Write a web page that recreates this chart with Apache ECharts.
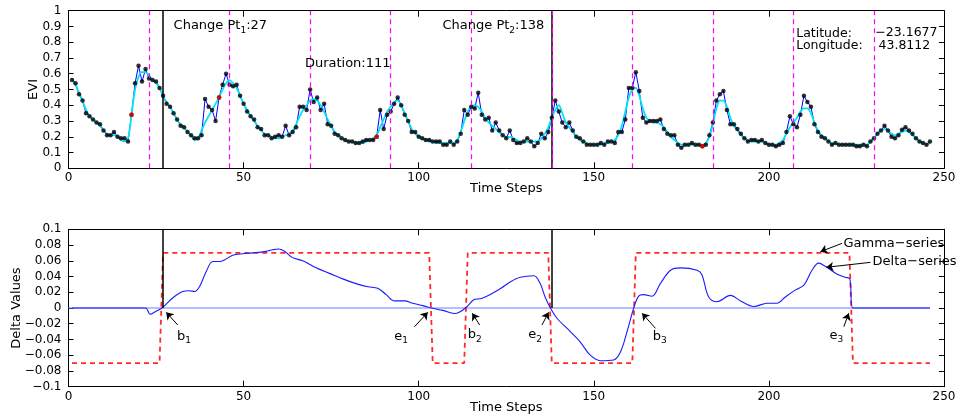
<!DOCTYPE html>
<html>
<head>
<meta charset="utf-8">
<script src="https://cdn.jsdelivr.net/npm/echarts/dist/echarts.min.js"></script>
<style>
html,body{margin:0;padding:0;background:#fff;}
#c{width:959px;height:419px;}
</style>
</head>
<body>
<div id="c"></div>
<script>
// EVI observations (time steps 1..246)
const evi = [
0.56,0.54,0.47,0.43,0.35,0.33,0.31,0.29,0.28,0.24,
0.21,0.21,0.23,0.20,0.19,0.19,0.17,0.34,0.54,0.65,
0.55,0.63,0.57,0.56,0.55,0.51,0.46,0.41,0.39,0.35,
0.31,0.27,0.26,0.23,0.21,0.19,0.19,0.21,0.44,0.39,
0.37,0.30,0.45,0.53,0.60,0.53,0.52,0.53,0.46,0.41,
0.36,0.33,0.31,0.26,0.25,0.21,0.21,0.19,0.20,0.21,
0.20,0.27,0.21,0.23,0.26,0.39,0.39,0.37,0.50,0.42,
0.45,0.37,0.41,0.28,0.27,0.22,0.21,0.19,0.18,0.17,
0.17,0.16,0.16,0.17,0.18,0.18,0.18,0.20,0.37,0.25,
0.34,0.36,0.41,0.45,0.40,0.34,0.30,0.23,0.23,0.20,
0.19,0.18,0.18,0.17,0.17,0.17,0.15,0.15,0.17,0.15,
0.17,0.22,0.37,0.34,0.39,0.38,0.48,0.34,0.31,0.32,
0.24,0.29,0.24,0.21,0.19,0.24,0.18,0.16,0.16,0.17,
0.19,0.17,0.14,0.16,0.22,0.19,0.23,0.32,0.43,0.36,
0.29,0.26,0.29,0.24,0.20,0.19,0.17,0.15,0.15,0.15,
0.15,0.16,0.15,0.17,0.17,0.16,0.23,0.23,0.31,0.51,
0.51,0.61,0.49,0.32,0.29,0.30,0.30,0.30,0.31,0.25,
0.22,0.21,0.21,0.15,0.13,0.15,0.15,0.16,0.15,0.15,
0.14,0.15,0.21,0.29,0.43,0.47,0.49,0.37,0.28,0.28,
0.25,0.22,0.19,0.17,0.18,0.18,0.17,0.18,0.16,0.15,
0.15,0.14,0.15,0.16,0.23,0.33,0.28,0.26,0.34,0.46,
0.42,0.39,0.28,0.23,0.20,0.19,0.17,0.15,0.16,0.15,
0.15,0.15,0.15,0.15,0.14,0.14,0.15,0.14,0.17,0.19,
0.22,0.24,0.27,0.24,0.20,0.19,0.21,0.245,0.26,0.24,
0.22,0.19,0.17,0.16,0.15,0.17
];
// smoothed EVI (cyan curve)
const eviSmooth = [
0.57,0.53,0.48,0.43,0.37,0.33,0.31,0.29,0.27,0.24,
0.22,0.21,0.21,0.20,0.18,0.17,0.19,0.34,0.50,0.58,
0.61,0.61,0.59,0.56,0.54,0.51,0.46,0.42,0.39,0.35,
0.31,0.28,0.26,0.23,0.21,0.18,0.19,0.24,0.29,0.33,
0.37,0.41,0.45,0.50,0.54,0.56,0.54,0.51,0.46,0.41,
0.37,0.33,0.30,0.27,0.24,0.22,0.21,0.20,0.19,0.19,
0.20,0.21,0.22,0.24,0.28,0.33,0.37,0.40,0.43,0.44,
0.43,0.40,0.36,0.31,0.27,0.23,0.21,0.19,0.18,0.17,
0.17,0.16,0.16,0.16,0.17,0.18,0.19,0.21,0.26,0.31,
0.36,0.39,0.42,0.43,0.40,0.35,0.30,0.25,0.22,0.20,
0.19,0.18,0.17,0.17,0.16,0.16,0.16,0.16,0.16,0.16,
0.18,0.23,0.30,0.36,0.39,0.40,0.39,0.36,0.32,0.29,
0.27,0.25,0.23,0.21,0.20,0.20,0.19,0.18,0.17,0.17,
0.17,0.17,0.17,0.17,0.19,0.22,0.26,0.32,0.37,0.40,
0.35,0.29,0.26,0.23,0.20,0.18,0.17,0.16,0.15,0.15,
0.15,0.15,0.16,0.16,0.17,0.18,0.21,0.27,0.36,0.45,
0.50,0.51,0.46,0.38,0.32,0.30,0.29,0.29,0.28,0.26,
0.23,0.20,0.18,0.16,0.15,0.15,0.15,0.15,0.15,0.15,
0.15,0.16,0.20,0.28,0.38,0.43,0.43,0.39,0.32,0.27,
0.24,0.21,0.19,0.18,0.17,0.17,0.17,0.17,0.16,0.15,
0.15,0.15,0.16,0.18,0.22,0.26,0.29,0.32,0.36,0.38,
0.38,0.35,0.29,0.24,0.21,0.19,0.17,0.16,0.16,0.15,
0.15,0.15,0.15,0.15,0.15,0.15,0.15,0.15,0.17,0.19,
0.22,0.24,0.25,0.24,0.22,0.21,0.22,0.23,0.24,0.23,
0.21,0.19,0.17,0.16,0.15,0.16
];
const redSteps = [18, 43, 88, 181];
const yearBreaks = [23, 46, 69, 92, 115, 138, 161, 184, 207, 230];
const changePoints = [27, 138];

// Gamma-series (red dashed step)
const gammaT = [1, 26, 27, 103, 104, 113, 114, 137, 138, 161, 162, 223, 224, 246];
const gammaV = [-0.07, -0.07, 0.07, 0.07, -0.07, -0.07, 0.07, 0.07, -0.07, -0.07, 0.07, 0.07, -0.07, -0.07];

// Delta-series
const deltaT = [1, 22, 23.3, 25, 26.7, 29.8, 32.6, 34.5, 36, 37.4, 39.3, 41.2, 43.1, 44.5, 46.9, 49.8, 52.6, 56.4, 58.3, 60, 61.7, 64, 66.9, 70.7, 74.5, 78.3, 82.1, 85.5, 88.3, 90.7, 93.1, 96, 98.3, 101.2, 103.6, 106.9, 110.2, 111.7, 113.6, 116, 117.9, 121.2, 123.5, 126.1, 129, 132.9, 134.7, 136.1, 137.6, 139.5, 143.3, 146.1, 149, 151.9, 155.7, 157.6, 159.5, 161.4, 162.8, 164.2, 166.6, 169, 171.9, 174.7, 179.5, 180.9, 182.8, 185.2, 189, 191.9, 195.7, 199.5, 202.3, 204.7, 207.6, 210, 212.3, 214.2, 216.1, 219.5, 221.8, 223.1, 224, 246];
const deltaV = [0, 0, -0.008, -0.004, 0, 0.013, 0.021, 0.022, 0.021, 0.027, 0.046, 0.059, 0.059, 0.061, 0.067, 0.069, 0.070, 0.072, 0.074, 0.075, 0.072, 0.064, 0.060, 0.051, 0.044, 0.037, 0.031, 0.027, 0.025, 0.017, 0.009, 0.009, 0.006, 0.003, 0.0, -0.003, -0.007, -0.005, 0.001, 0.011, 0.012, 0.019, 0.025, 0.033, 0.039, 0.041, 0.031, 0.014, 0.0, -0.013, -0.030, -0.043, -0.060, -0.067, -0.066, -0.056, -0.030, 0.0, 0.015, 0.017, 0.015, 0.031, 0.048, 0.051, 0.048, 0.042, 0.014, 0.008, 0.016, 0.009, 0.002, 0.006, 0.006, 0.014, 0.023, 0.029, 0.048, 0.057, 0.053, 0.043, 0.039, 0.037, 0.0, 0];

// annotation labels (arrow tail -> arrow head, label anchor)
const markerNames = ['b1', 'e1', 'b2', 'e2', 'b3', 'e3'];
const markerArrows = [
  [[31.2, -0.0216], [27.9, -0.0055]],
  [[98.8, -0.0238], [102.6, -0.0055]],
  [[117.4, -0.0216], [115.3, -0.0067]],
  [[135.2, -0.0216], [137.1, -0.0055]],
  [[167.6, -0.0258], [163.8, -0.0067]],
  [[221.4, -0.0238], [222.8, -0.0067]]
];
const markerLabelPos = [[31.0, -0.036], [93.0, -0.036], [114.0, -0.034], [131.3, -0.034], [166.8, -0.036], [217.3, -0.035]];

const FONT = 'DejaVu Sans';
const fmt = v => String(parseFloat(v.toFixed(2))).replace('-', '\u2212');

const steps = evi.map((_, i) => i + 1);
const eviData = steps.map((t, i) => [t, evi[i]]);
const smoothData = steps.map((t, i) => [t, eviSmooth[i]]);
const redData = redSteps.map(t => [t, evi[t - 1]]);
const gammaData = gammaT.map((t, i) => [t, gammaV[i]]);
const deltaData = deltaT.map((t, i) => [t, deltaV[i]]);
const zeroData = [[0, 0], [steps[steps.length - 1], 0]];

const G1 = {left: 68.5, top: 10.7, width: 875.5, height: 157.6, containLabel: false, outerBoundsMode: 'none'};
const G2 = {left: 68.5, top: 229.3, width: 875.5, height: 157.4, containLabel: false, outerBoundsMode: 'none'};

function xAx(grid, pos, labels) {
  return {
    type: 'value', gridIndex: grid, position: pos, min: 0, max: 250, interval: 50,
    axisLine: {show: true, onZero: false, lineStyle: {color: '#000', width: 1}},
    axisTick: {show: true, inside: true, length: 6, lineStyle: {color: '#000'}},
    axisLabel: {show: labels, color: '#000', fontFamily: FONT, fontSize: 12, margin: 4},
    splitLine: {show: false},
    name: labels ? 'Time Steps' : '', nameLocation: 'middle', nameGap: 14, nameMoveOverlap: false,
    nameTextStyle: {color: '#000', fontFamily: FONT, fontSize: 13}
  };
}
function yAx(grid, pos, labels, min, max, interval, name, gap) {
  return {
    type: 'value', gridIndex: grid, position: pos, min: min, max: max, interval: interval,
    axisLine: {show: true, onZero: false, lineStyle: {color: '#000', width: 1}},
    axisTick: {show: true, inside: true, length: 5, lineStyle: {color: '#000'}},
    axisLabel: {show: labels, color: '#000', fontFamily: FONT, fontSize: 12, margin: 7, formatter: fmt},
    splitLine: {show: false},
    name: labels ? name : '', nameLocation: 'middle', nameGap: gap, nameMoveOverlap: false,
    nameTextStyle: {color: '#000', fontFamily: FONT, fontSize: 13}
  };
}

const subRich = {
  a: {fontFamily: FONT, fontSize: 13, color: '#000', lineHeight: 16},
  s: {fontFamily: FONT, fontSize: 9, color: '#000', lineHeight: 16, padding: [9, 0, 0, 0]}
};
function textPoint(coord, formatter, size) {
  return {
    coord: coord, symbol: 'circle', symbolSize: 0,
    label: {show: true, position: 'right', distance: 0, formatter: formatter,
      fontFamily: FONT, fontSize: size || 13, color: '#000', rich: subRich}
  };
}

const option = {
  animation: false,
  backgroundColor: '#fff',
  grid: [G1, G2],
  xAxis: [xAx(0, 'bottom', true), xAx(0, 'top', false), xAx(1, 'bottom', true), xAx(1, 'top', false)],
  yAxis: [
    yAx(0, 'left', true, 0, 1, 0.1, 'EVI', 28),
    yAx(0, 'right', false, 0, 1, 0.1, '', 0),
    yAx(1, 'left', true, -0.1, 0.1, 0.02, 'Delta Values', 45),
    yAx(1, 'right', false, -0.1, 0.1, 0.02, '', 0)
  ],
  series: [
    {
      type: 'line', xAxisIndex: 0, yAxisIndex: 0, data: eviData, showSymbol: false, symbol: 'none',
      lineStyle: {color: '#0000ff', width: 1}, z: 2, silent: true,
      markLine: {
        silent: true, symbol: 'none', animation: false,
        label: {show: false},
        data: changePoints.map(c => ({xAxis: c, lineStyle: {color: '#000', width: 1.5, type: 'solid'}}))
      }
    },
    {
      type: 'line', xAxisIndex: 0, yAxisIndex: 0, data: smoothData, showSymbol: false, symbol: 'none',
      smooth: 0.3, lineStyle: {color: '#00e5f5', width: 1.8}, z: 3, silent: true,
      markLine: {
        silent: true, symbol: 'none', animation: false,
        label: {show: false},
        data: yearBreaks.map(c => ({xAxis: c, lineStyle: {color: '#ff00ff', width: 1.2, type: [5, 4]}}))
      },
      markPoint: {
        silent: true, animation: false,
        data: [
          textPoint([30.0, 0.905], '{a|Change Pt}{s|1}{a|:27}'),
          textPoint([106.8, 0.905], '{a|Change Pt}{s|2}{a|:138}'),
          textPoint([67.5, 0.665], 'Duration:111'),
          textPoint([207.8, 0.855], 'Latitude:', 12.5),
          textPoint([230.4, 0.860], '\u221223.1677', 12.5),
          textPoint([207.8, 0.777], 'Longitude:', 12.5),
          textPoint([231.3, 0.777], '43.8112', 12.5)
        ]
      }
    },
    {
      type: 'scatter', xAxisIndex: 0, yAxisIndex: 0, data: eviData, symbol: 'circle', symbolSize: 4.5,
      itemStyle: {color: '#000'}, z: 4, silent: true
    },
    {
      type: 'scatter', xAxisIndex: 0, yAxisIndex: 0, data: redData, symbol: 'circle', symbolSize: 4.5,
      itemStyle: {color: '#ff0000'}, z: 5, silent: true
    },
    {
      type: 'line', xAxisIndex: 2, yAxisIndex: 2, data: zeroData, showSymbol: false, symbol: 'none',
      lineStyle: {color: '#6a80ff', width: 1.2}, z: 2, silent: true,
      markLine: {
        silent: true, symbol: 'none', animation: false, label: {show: false},
        data: changePoints.map(c => [{coord: [c, 0]}, {coord: [c, 0.1]}]),
        lineStyle: {color: '#000', width: 1.5, type: 'solid'}
      }
    },
    {
      type: 'line', xAxisIndex: 2, yAxisIndex: 2, data: gammaData, showSymbol: false, symbol: 'none',
      lineStyle: {color: '#ff2a2a', width: 1.8, type: [5, 4]}, z: 3, silent: true
    },
    {
      type: 'line', xAxisIndex: 2, yAxisIndex: 2, data: deltaData, showSymbol: false, symbol: 'none',
      smooth: 0.35, lineStyle: {color: '#1a1aff', width: 1.1}, z: 4, silent: true,
      markLine: {
        silent: true, animation: false, symbol: ['none', 'arrow'], symbolSize: 7,
        label: {show: false},
        lineStyle: {color: '#000', width: 1, type: 'solid'},
        data: markerArrows.map(a => [{coord: a[0]}, {coord: a[1]}]).concat([
          [{coord: [220.9, 0.0822]}, {coord: [214.7, 0.0715]}],
          [{coord: [229.0, 0.0580]}, {coord: [216.4, 0.0517]}]
        ])
      },
      markPoint: {
        silent: true, animation: false,
        data: markerNames.map((n, i) => textPoint(markerLabelPos[i], '{a|' + n[0] + '}{s|' + n.slice(1) + '}')).concat([
          textPoint([221.3, 0.0815], 'Gamma\u2212series'),
          textPoint([229.6, 0.0585], 'Delta\u2212series')
        ])
      }
    }
  ]
};

const chart = echarts.init(document.getElementById('c'), null, {renderer: 'canvas'});
chart.setOption(option);
</script>
</body>
</html>
